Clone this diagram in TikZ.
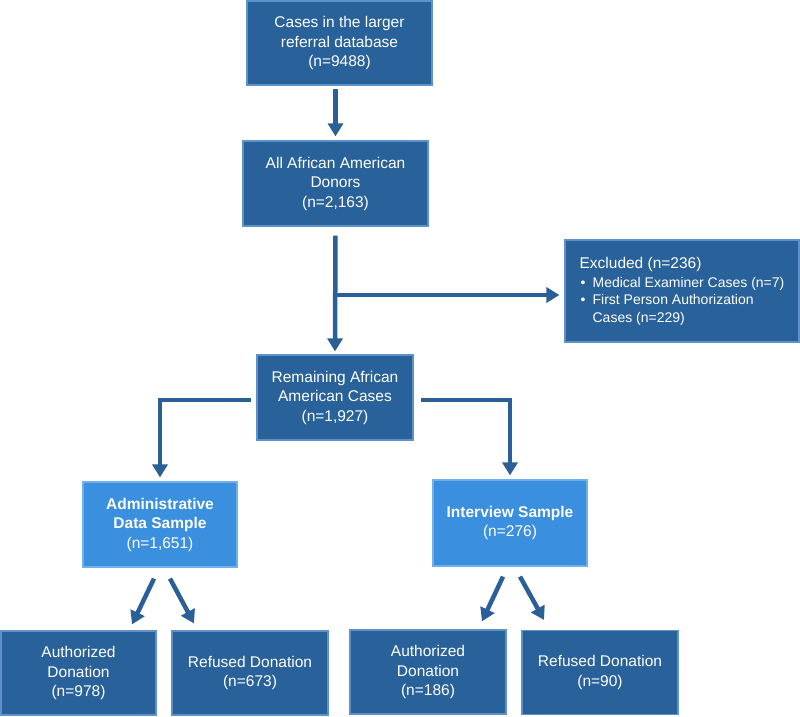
\documentclass[tikz,border=0pt]{standalone}
\usepackage{fontspec}
\setmainfont{Liberation Sans}
\usetikzlibrary{arrows.meta}
\definecolor{dfill}{HTML}{29619A}
\definecolor{dborder}{HTML}{5E92C8}
\definecolor{lfill}{HTML}{3B8FDF}
\definecolor{lborder}{HTML}{72B0EC}
\definecolor{acol}{HTML}{2A5F97}
\tikzset{
  dbox/.style={draw=dborder, fill=dfill, line width=1.2pt, text=white,
    font=\fontsize{15.5}{19.5}\selectfont, align=center, inner sep=0pt},
  lbox/.style={dbox, fill=lfill, draw=lborder},
  arr/.style={draw=acol, line width=4.5pt, line join=miter,
    -{Triangle[width=15pt,length=13pt]}},
}
\begin{document}
\begin{tikzpicture}[x=1pt,y=-1pt]
\useasboundingbox (0,0) rectangle (800,716);
\node[dbox, minimum width=185pt, minimum height=84pt] (b1) at (339.5,43) {Cases in the larger\\referral database\\(n=9488)};
\node[dbox, minimum width=185pt, minimum height=85pt] (b2) at (335.5,183.5) {All African American\\Donors\\(n=2,163)};
\node[dbox, minimum width=234pt, minimum height=102pt, align=left,
  font=\fontsize{14}{17.5}\selectfont] (ex) at (682,291)
  {{\fontsize{15.5}{17.5}\selectfont Excluded (n=236)}\\[1.5pt]
   \makebox[13pt][l]{\hspace{1pt}\textbullet}Medical Examiner Cases (n=7)\\
   \makebox[13pt][l]{\hspace{1pt}\textbullet}First Person Authorization\\
   \hspace*{13pt}Cases (n=229)};
\node[dbox, minimum width=156pt, minimum height=85pt] (b3) at (335,397.5) {Remaining African\\American Cases\\(n=1,927)};
\node[lbox, minimum width=154pt, minimum height=85pt] (adm) at (160,524.5) {\textbf{Administrative}\\\textbf{Data Sample}\\(n=1,651)};
\node[lbox, minimum width=154pt, minimum height=86pt] (int) at (510,523) {\textbf{Interview Sample}\\(n=276)};
\node[dbox, minimum width=155pt, minimum height=84pt] (a1) at (78.5,673) {Authorized\\Donation\\(n=978)};
\node[dbox, minimum width=156pt, minimum height=84pt] (r1) at (250,673) {Refused Donation\\(n=673)};
\node[dbox, minimum width=156pt, minimum height=84pt] (a2) at (428,672) {Authorized\\Donation\\(n=186)};
\node[dbox, minimum width=156pt, minimum height=84pt] (r2) at (600,672.5) {Refused Donation\\(n=90)};
% connectors
\draw[arr, shorten <=3pt, shorten >=4pt] (b1.south -| b2.north) -- (b2.north);
\draw[arr, shorten <=9pt, shorten >=3pt] (b2.south) -- (b3.north);
\draw[arr, shorten >=5pt] ([yshift=-4pt]b2.south |- ex.west) -- ([yshift=-4pt]ex.west);
\draw[arr, shorten <=5pt, shorten >=4pt] ([yshift=-2.5pt]b3.west) -| (adm.north);
\draw[arr, shorten <=7pt, shorten >=4pt] ([yshift=-2.5pt]b3.east) -| (int.north);
\draw[arr] ([xshift=-6pt,yshift=-11pt]adm.south) -- ([xshift=53.5pt,yshift=6pt]a1.north);
\draw[arr] ([xshift=10pt,yshift=-11pt]adm.south) -- ([xshift=-56pt,yshift=7pt]r1.north);
\draw[arr] ([xshift=-7pt,yshift=-10pt]int.south) -- ([xshift=54pt,yshift=8pt]a2.north);
\draw[arr] ([xshift=10pt,yshift=-10pt]int.south) -- ([xshift=-56pt,yshift=10pt]r2.north);
\end{tikzpicture}
\end{document}
